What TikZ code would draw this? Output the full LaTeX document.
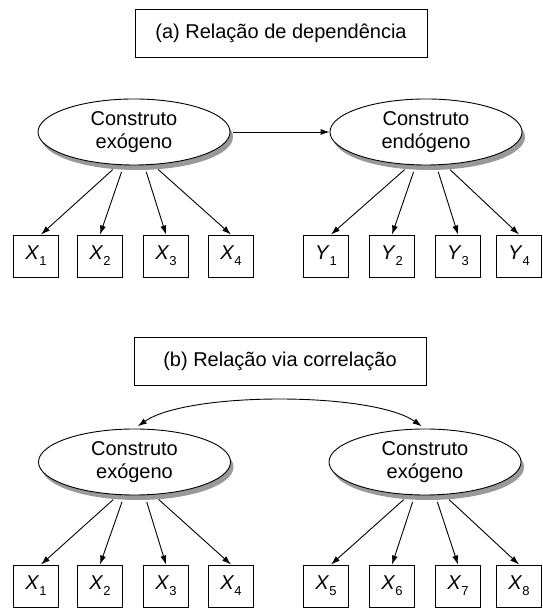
\documentclass[tikz,border=0pt]{standalone}
\usepackage{fontspec}
\setmainfont{Liberation Sans}
\usetikzlibrary{shapes.geometric,shadows,arrows.meta}

\newcommand{\indvar}[2]{\textit{#1}\raisebox{-0.55ex}{\fontsize{13}{13}\selectfont #2}}

\begin{document}
\begin{tikzpicture}[x=1pt, y=1pt, line width=0.9pt,
  every node/.style={font=\fontsize{20}{23}\selectfont},
  titlebox/.style={draw, minimum width=292pt, minimum height=48pt, inner sep=0pt},
  construct/.style={draw, fill=white, ellipse, minimum width=192pt, minimum height=66pt,
    inner sep=0pt, align=center,
    drop shadow={shadow xshift=3pt, shadow yshift=-5pt, fill=gray!80, opacity=1}},
  indicator/.style={draw, minimum width=45pt, minimum height=42pt, inner sep=0pt},
  load/.style={-{Latex[length=9pt, width=6pt]}, shorten <=7pt}]
  \useasboundingbox (0,0) rectangle (542,609);

  % (a) dependence
  \node[titlebox] (ta) at (281,575.5) {(a) Relação de dependência};
  \node[construct] (e1) at (134,477) {Construto\\exógeno};
  \node[construct] (e2) at (426,477) {Construto\\endógeno};
  \draw[-{Latex[length=9pt, width=6pt]}, shorten <=3pt] (e1.east) -- (e2.west);
  \foreach \i/\px in {1/36,2/100,3/166,4/231}
    \node[indicator] (x\i) at (\px,353) {\indvar{X}{\i}};
  \foreach \i/\px in {1/326,2/392,3/458,4/519}
    \node[indicator] (y\i) at (\px,353) {\indvar{Y}{\i}};
  \foreach \i/\a/\dx in {1/244/5,2/253/0,3/287/0,4/300/0} {
    \draw[load] (e1.\a) -- ([xshift=\dx pt]x\i.north);
    \draw[load] (e2.\a) -- ([xshift=\dx pt]y\i.north);
  }

  % (b) correlation
  \node[titlebox] (tb) at (280,248) {(b) Relação via correlação};
  \node[construct] (e3) at (134.5,147) {Construto\\exógeno};
  \node[construct] (e4) at (425,147) {Construto\\exógeno};
  \draw[{Latex[length=9pt, width=6pt]}-{Latex[length=9pt, width=6pt]}, shorten <=4pt, shorten >=4pt]
    (e3.north) .. controls +(53,37) and +(-53,37) .. (e4.north);
  \foreach \i/\px in {1/36,2/100,3/166,4/231}
    \node[indicator] (bx\i) at (\px,23) {\indvar{X}{\i}};
  \foreach \i/\px in {5/326,6/392,7/458,8/519}
    \node[indicator] (bx\i) at (\px,23) {\indvar{X}{\i}};
  \foreach \i/\a/\dx in {1/244/5,2/253/0,3/287/0,4/300/0}
    \draw[load] (e3.\a) -- ([xshift=\dx pt]bx\i.north);
  \foreach \i/\a/\dx in {5/244/5,6/253/0,7/287/0,8/300/0}
    \draw[load] (e4.\a) -- ([xshift=\dx pt]bx\i.north);
\end{tikzpicture}
\end{document}
